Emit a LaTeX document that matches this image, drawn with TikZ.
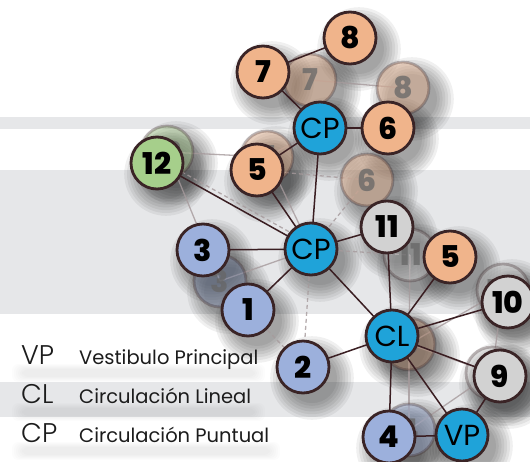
\documentclass[tikz,border=0pt]{standalone}
\usepackage{fontspec}
\setmainfont{Poppins}
\IfFontExistsTF{Poppins Light}{\newfontfamily\plight{Poppins Light}}{\newfontfamily\plight{Poppins}}
\IfFontExistsTF{Poppins ExtraBold}{\newfontfamily\pheavy{Poppins ExtraBold}}{\newfontfamily\pheavy{Poppins}[FakeBold=1.5]}
\definecolor{peach}{HTML}{F0B48B}
\definecolor{cpblue}{HTML}{1FA3D9}
\definecolor{peri}{HTML}{9CB0DC}
\definecolor{leaf}{HTML}{A6CF8B}
\definecolor{lgray}{HTML}{D2D2D2}
\definecolor{outl}{HTML}{3A2426}
\definecolor{band}{HTML}{E6E7E9}
\definecolor{edgec}{HTML}{3A1E22}
\definecolor{legtxt}{HTML}{1C1C1C}
\tikzset{
  nodebase/.style={circle, draw=outl, line width=2.8pt, minimum size=52pt, inner sep=0pt},
  numnode/.style={nodebase, font=\pheavy\fontsize{30}{30}\selectfont},
  circnode/.style={nodebase, fill=cpblue, font=\fontsize{29}{29}\selectfont},
  ghostnode/.style={nodebase, draw opacity=.3, fill opacity=.4, text=black!60, text opacity=.75,
    font=\pheavy\fontsize{30}{30}\selectfont},
  frontedge/.style={draw=edgec, line width=1.5pt},
  ghostedge/.style={draw=edgec!45, line width=1.3pt, opacity=.8},
  ghostdash/.style={draw=edgec!45, line width=1.3pt, opacity=.8, dash pattern=on 4pt off 3pt},
  abbr/.style={anchor=base west, text=legtxt, font=\plight\fontsize{27}{27}\selectfont, inner sep=0pt},
  desc/.style={anchor=base west, text=legtxt, font=\fontsize{19.5}{19.5}\selectfont, inner sep=0pt},
}
\begin{document}
\begin{tikzpicture}[x=1pt,y=-1pt]
\useasboundingbox (0,0) rectangle (530,461);
\clip (0,0) rectangle (530,461);
% background bands
\fill[white] (0,0) rectangle (530,461);
\fill[band] (0,117) rectangle (530,129);
\fill[band] (0,170) rectangle (530,314);
\fill[band] (0,382) rectangle (530,417);
% positions
\coordinate (c8) at (350,38);
\coordinate (c7) at (263,72);
\coordinate (cg7) at (310,80);
\coordinate (cg8) at (403,88);
\coordinate (ccpt) at (320,128);
\coordinate (c6) at (388,128);
\coordinate (cg12) at (167,152);
\coordinate (c12) at (157,163);
\coordinate (cg5) at (267,157);
\coordinate (c5) at (257,170);
\coordinate (cg6) at (367,180);
\coordinate (c3) at (203,250);
\coordinate (cg3) at (220,281);
\coordinate (ccpm) at (311,249);
\coordinate (c11) at (387,227);
\coordinate (cg11) at (410,255);
\coordinate (c5b) at (450,257);
\coordinate (c1) at (248,310);
\coordinate (c2) at (303,367);
\coordinate (ccl) at (392,336);
\coordinate (cg5b) at (409,344);
\coordinate (c10) at (508,302);
\coordinate (cg10) at (503,290);
\coordinate (c9) at (500,376);
\coordinate (cg9) at (492,373);
\coordinate (c4) at (389,437);
\coordinate (cg4) at (409,430);
\coordinate (cvp) at (462,435);
% shadows
\foreach \n in {c8,c7,cg7,cg8,ccpt,c6,cg12,c12,cg5,c5,cg6,c3,cg3,ccpm,c11,cg11,c5b,c1,c2,ccl,cg5b,c10,cg10,c9,cg9,c4,cg4,cvp}{
  \foreach \k in {0,...,6}{
    \fill[black,opacity=.06] ([shift={(9,11)}]\n) circle[radius={(25+2.8*\k)*1pt}];
  }
}
% legend shadows (soft blur under the text)
\foreach \k in {0,...,5}{
  \fill[black,opacity=.012,rounded corners=6pt] (22-2*\k,369-\k) rectangle (255+2*\k,377+\k);
  \fill[black,opacity=.012,rounded corners=6pt] (22-2*\k,408-\k) rectangle (255+2*\k,416+\k);
  \fill[black,opacity=.012,rounded corners=6pt] (22-2*\k,447-\k) rectangle (270+2*\k,455+\k);
}
% ghost edges
\draw[ghostedge] (cg7) -- (cg8);
\draw[ghostedge] (cg12) -- (cg5);
\draw[ghostedge] (cg5) -- (ccpt);
\draw[ghostedge] (cg5) -- (ccpm);
\draw[ghostedge] (cg12) -- (cg3);
\draw[ghostedge] (cg3) -- (ccpm);
\draw[ghostedge] (cg11) -- (cg5b);
\draw[ghostedge] (cg5b) -- (cg10);
\draw[ghostedge] (cg5b) -- (cg9);
\draw[ghostedge] (cg5b) -- (cg4);
\draw[ghostedge] (cg4) -- (cg9);
\draw[ghostedge] (cg10) -- (cg9);
\draw[ghostdash] ([yshift=5]c12) -- ([yshift=5]ccpm);
\draw[ghostdash] (c5) -- (cg6);
\draw[ghostdash] (cg6) -- (ccpm);
\draw[ghostdash] (ccpm) -- (cg11);
\draw[ghostdash] (ccpm) -- (c2);
\draw[ghostdash] (c1) -- (c2);
% ghost nodes
\node[ghostnode, fill=peach] (g7) at (cg7) {7};
\node[ghostnode, fill=peach] (g8) at (cg8) {8};
\node[ghostnode, fill=leaf] (g12) at (cg12) {12};
\node[ghostnode, fill=peach] (g5) at (cg5) {5};
\node[ghostnode, fill=peach] (g6) at (cg6) {6};
\node[ghostnode, fill=peri!80!black] (g3) at (cg3) {3};
\node[ghostnode, fill=lgray] (g11) at (cg11) {11};
\node[ghostnode, fill=peach!80!black] (g5b) at (cg5b) {5};
\node[ghostnode, fill=lgray] (g10) at (cg10) {10};
\node[ghostnode, fill=lgray] (g9) at (cg9) {9};
\node[ghostnode, fill=peri] (g4) at (cg4) {4};
% front edges
\draw[frontedge] (c7) -- (c8);
\draw[frontedge] (c7) -- (ccpt);
\draw[frontedge] (ccpt) -- (c6);
\draw[frontedge] (ccpt) -- (c5);
\draw[frontedge] (ccpt) -- (ccpm);
\draw[frontedge] (c12) -- (ccpm);
\draw[frontedge] (c5) -- (ccpm);
\draw[frontedge] (c3) -- (ccpm);
\draw[frontedge] (c1) -- (ccpm);
\draw[frontedge] (c11) -- (ccpm);
\draw[frontedge] (ccpm) -- (ccl);
\draw[frontedge] (c11) -- (ccl);
\draw[frontedge] (c5b) -- (ccl);
\draw[frontedge] (ccl) -- (c10);
\draw[frontedge] (ccl) -- (c2);
\draw[frontedge] (ccl) -- (c9);
\draw[frontedge] (ccl) -- (c4);
\draw[frontedge] (ccl) -- (cvp);
\draw[frontedge] (c4) -- (cvp);
\draw[frontedge] (cvp) -- (c9);
% front nodes
\node[numnode, fill=peach] (n8) at (c8) {8};
\node[numnode, fill=peach] (n7) at (c7) {7};
\node[circnode] (cpt) at (ccpt) {CP};
\node[numnode, fill=peach] (n6) at (c6) {6};
\node[numnode, fill=leaf] (n12) at (c12) {12};
\node[numnode, fill=peach] (n5) at (c5) {5};
\node[numnode, fill=peri] (n3) at (c3) {3};
\node[circnode] (cpm) at (ccpm) {CP};
\node[numnode, fill=lgray] (n11) at (c11) {11};
\node[numnode, fill=peach] (n5b) at (c5b) {5};
\node[numnode, fill=peri] (n1) at (c1) {1};
\node[numnode, fill=peri] (n2) at (c2) {2};
\node[circnode] (cl) at (ccl) {CL};
\node[numnode, fill=lgray] (n10) at (c10) {10};
\node[numnode, fill=lgray] (n9) at (c9) {9};
\node[numnode, fill=peri] (n4) at (c4) {4};
\node[circnode] (vp) at (cvp) {VP};
% legend
\node[abbr] (lvp) at (21,364) {VP};
\node[desc] (dvp) at (79,364) {Vestibulo Principal};
\node[abbr] (lcl) at (21,403) {CL};
\node[desc] (dcl) at (79,403) {Circulación Lineal};
\node[abbr] (lcp) at (21,442) {CP};
\node[desc] (dcp) at (79,442) {Circulación Puntual};
\end{tikzpicture}
\end{document}
